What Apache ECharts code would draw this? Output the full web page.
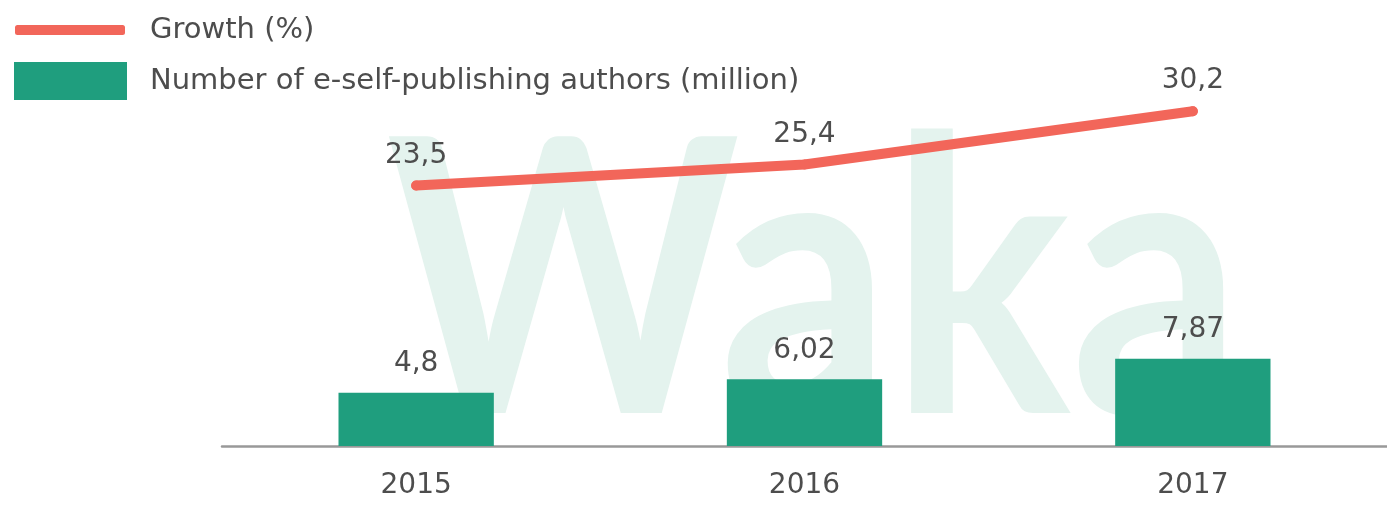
<!DOCTYPE html>
<html>
<head>
<meta charset="utf-8">
<script src="https://cdn.jsdelivr.net/npm/echarts@6/dist/echarts.min.js"></script>
<style>
  html, body { margin: 0; padding: 0; background: #ffffff; }
  #chart { width: 1387px; height: 506px; }
</style>
</head>
<body>
<div id="chart"></div>
<script>
// Self-publishing market: authors count (bars) and yearly growth (line)
const years = ['2015', '2016', '2017'];
const growthPct = [23.5, 25.4, 30.2];
const authorsMillion = [4.8, 6.02, 7.87];

const seriesNames = ['Growth (%)', 'Number of e-self-publishing authors (million)'];

const FONT = '"DejaVu Sans", "Open Sans", sans-serif';
const TEXT_COLOR = '#4d4d4d';
const LINE_COLOR = '#f2665a';
const BAR_COLOR = '#1f9e7e';

// decimal comma, as used in the labels
const fmt = p => String(p.value).replace('.', ',');

const chart = echarts.init(document.getElementById('chart'), null, { renderer: 'canvas' });

chart.setOption({
  backgroundColor: '#ffffff',
  animation: false,
  textStyle: { fontFamily: FONT },
  graphic: [{
    // brand wordmark drawn faintly behind the plot
    type: 'text',
    z: -10,
    silent: true,
    left: 386,
    top: 98,
    scaleX: 0.88,
    style: {
      text: 'Waka',
      font: 'bold 383px Lato',
      fill: '#e4f3ee'
    }
  }],
  legend: [{
    left: 15,
    top: 12,
    padding: 0,
    icon: 'roundRect',
    itemWidth: 110,
    itemHeight: 10,
    data: [seriesNames[0]],
    textStyle: { fontSize: 29, lineHeight: 36, color: TEXT_COLOR, fontFamily: FONT, padding: [0, 0, 0, 20] },
    selectedMode: false
  }, {
    left: 14,
    top: 62,
    padding: 0,
    icon: 'rect',
    itemWidth: 113,
    itemHeight: 38,
    data: [seriesNames[1]],
    textStyle: { fontSize: 29, lineHeight: 36, color: TEXT_COLOR, fontFamily: FONT, padding: [0, 0, 0, 18] },
    selectedMode: false
  }],
  grid: { left: 222, right: -9, top: 58, bottom: 60, containLabel: false },
  xAxis: {
    type: 'category',
    data: years,
    boundaryGap: true,
    axisLine: { show: true, lineStyle: { color: '#999999', width: 2.5 } },
    axisTick: { show: false },
    axisLabel: { fontSize: 28, color: TEXT_COLOR, fontFamily: FONT, margin: 26 },
    splitLine: { show: false }
  },
  yAxis: {
    type: 'value',
    min: 0,
    max: 35,
    show: false,
    splitLine: { show: false }
  },
  series: [{
    name: seriesNames[1],
    type: 'bar',
    data: authorsMillion,
    barWidth: '40%',
    itemStyle: { color: BAR_COLOR },
    label: {
      show: true,
      position: 'top',
      distance: 15,
      fontSize: 28,
      color: TEXT_COLOR,
      fontFamily: FONT,
      formatter: fmt
    },
    z: 2
  }, {
    name: seriesNames[0],
    type: 'line',
    data: growthPct,
    symbol: 'circle',
    symbolSize: 10,
    showSymbol: true,
    itemStyle: { color: LINE_COLOR },
    lineStyle: { color: LINE_COLOR, width: 10, cap: 'round', join: 'round' },
    label: {
      show: true,
      position: 'top',
      distance: 11,
      fontSize: 28,
      color: TEXT_COLOR,
      fontFamily: FONT,
      formatter: fmt
    },
    z: 3
  }]
});
</script>
</body>
</html>
